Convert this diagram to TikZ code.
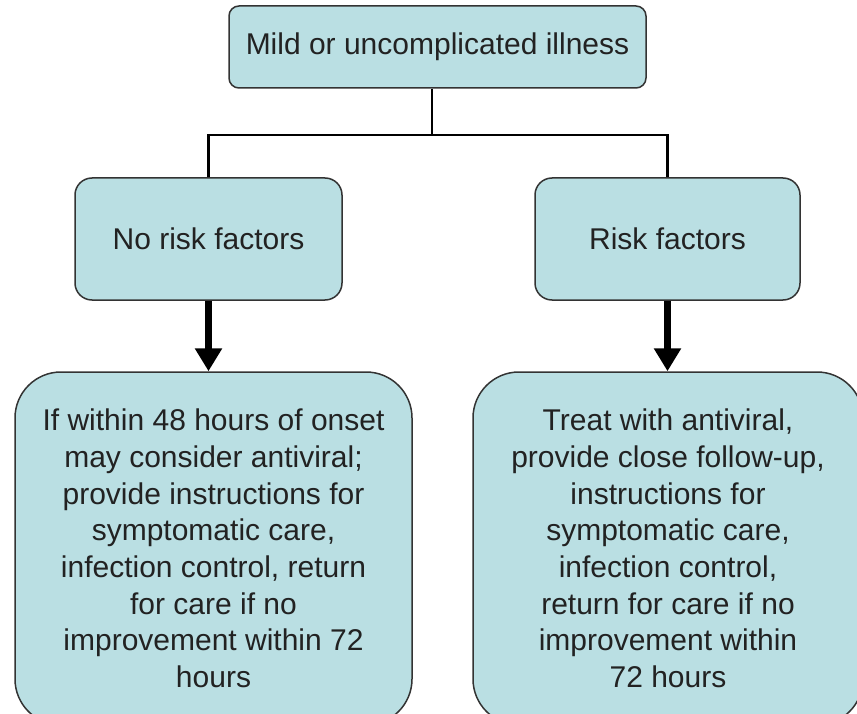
\documentclass[tikz,border=0pt]{standalone}
\usepackage{fontspec}
\setmainfont{Liberation Sans}
\usetikzlibrary{arrows.meta,calc}
\definecolor{boxfill}{HTML}{BADFE3}
\definecolor{boxline}{HTML}{333333}
\definecolor{txt}{HTML}{222222}
\begin{document}
\begin{tikzpicture}[x=1pt,y=-1pt,
  box/.style={draw=boxline, line width=1.5pt, fill=boxfill, text=txt, align=center, inner sep=0pt, font=\fontsize{30}{36.7}\selectfont},
  link/.style={draw=black, line width=2.5pt},
  bigarrow/.style={draw=black, line width=7pt, -{Triangle[width=26pt,length=23pt]}}]
\useasboundingbox (0,0) rectangle (857,714);
\fill[white] (0,0) rectangle (857,714);
\clip (0,0) rectangle (857,714);
\node[box, rounded corners=10pt, minimum width=417pt, minimum height=82pt] (top) at (437.5,47) {Mild or uncomplicated illness};
\node[box, rounded corners=17pt, minimum width=267pt, minimum height=122pt] (nrf) at (208.5,239) {No risk factors};
\node[box, rounded corners=17pt, minimum width=265pt, minimum height=122pt] (rf) at (667.5,239) {Risk factors};
\node[box, rounded corners=46pt, minimum width=397pt, minimum height=353pt] (nrfcare) at (213.5,548.5) {If within 48 hours of onset\\may consider antiviral;\\provide instructions for\\symptomatic care,\\infection control, return\\for care if no\\improvement within 72\\hours};
\node[box, rounded corners=46pt, minimum width=390pt, minimum height=353pt] (rfcare) at (668,548.5) {Treat with antiviral,\\provide close follow-up,\\instructions for\\symptomatic care,\\infection control,\\return for care if no\\improvement within\\72 hours};
\coordinate (j) at (432,135);
\draw[link] (top.south -| j) -- (j);
\draw[link] (nrf.north) |- (j) -| (rf.north);
\draw[bigarrow] (nrf.south) -- (nrf.south |- nrfcare.north);
\draw[bigarrow] (rf.south) -- (rf.south |- rfcare.north);
\end{tikzpicture}
\end{document}
